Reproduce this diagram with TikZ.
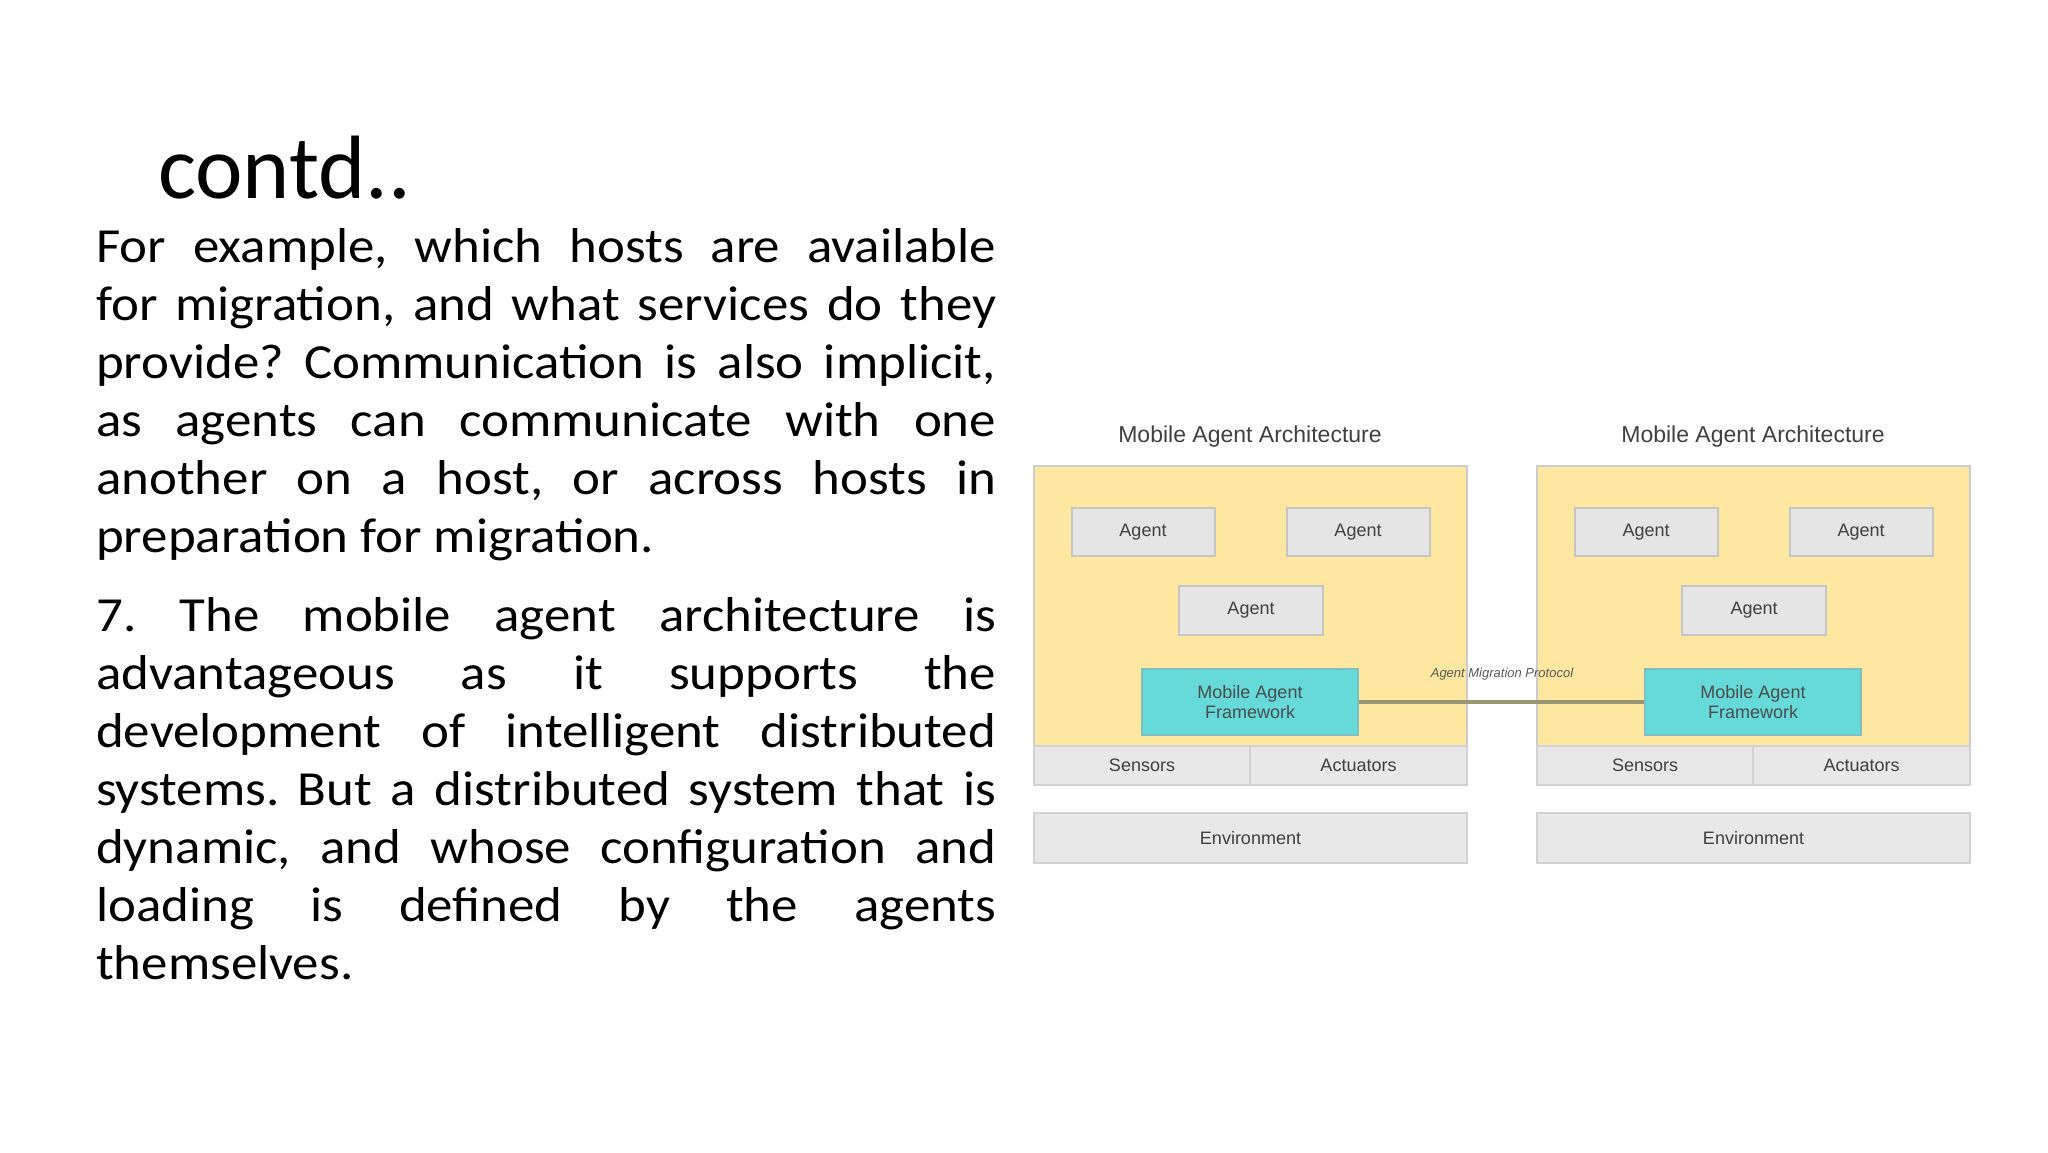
\documentclass[tikz,border=0pt]{standalone}
\usepackage{fontspec}
\setmainfont{Carlito}
\newfontfamily\bodyf{Carlito}[FakeStretch=1.08]
\newfontfamily\dia{Liberation Sans}
\frenchspacing
\begin{document}
\begin{tikzpicture}[x=1pt,y=-1pt,
  ag/.style={draw=gray!45, line width=2pt, fill=black!10, font=\dia\fontsize{18}{20}\selectfont, text=black!75, inner sep=0pt},
  fw/.style={draw=teal!50, line width=1.5pt, fill=teal!50!cyan!60!white, font=\dia\fontsize{18}{20}\selectfont, text=black!70, inner sep=0pt, align=center},
  gr/.style={draw=gray!35, line width=1.5pt, fill=black!9, font=\dia\fontsize{18}{20}\selectfont, text=black!75, inner sep=0pt},
  ttl/.style={font=\dia\fontsize{23}{25}\selectfont, text=black!75}]
\useasboundingbox (0,0) rectangle (2048,1152);
\fill[white] (0,0) rectangle (2048,1152);
\node[anchor=base west, font=\fontsize{90}{100}\selectfont, inner sep=0pt] (title) at (158,198) {contd..};
\node[anchor=north west, inner sep=0pt, text width=900pt, align=justify, font=\bodyf\fontsize{49}{58}\selectfont] (body) at (96,228) {\hyphenpenalty=10000 For example, which hosts are available\linebreak for migration, and what services do they\linebreak provide? Communication is also implicit,\linebreak as agents can communicate with one\linebreak another on a host, or across hosts in\linebreak preparation for migration.\par\vspace{21pt}
\hyphenpenalty=10000 7. The mobile agent architecture is\linebreak advantageous as it supports the\linebreak development of intelligent distributed\linebreak systems. But a distributed system that is\linebreak dynamic, and whose configuration and\linebreak loading is defined by the agents\linebreak themselves.};
\foreach \o/\n in {-10/L,493/R}{
  \begin{scope}[xshift=\o]
  \node[ttl] (t\n) at (1260,437) {Mobile Agent Architecture};
  \node[draw=gray!40, line width=1.5pt, fill=yellow!55!orange!35!white, minimum width=433pt, minimum height=280pt, inner sep=0pt] (y\n) at (1260.5,606) {};
  \node[ag, minimum width=143pt, minimum height=48pt] (a1\n) at (1153,532) {Agent};
  \node[ag, minimum width=143pt, minimum height=48pt] (a2\n) at (1368,532) {Agent};
  \node[ag, minimum width=144pt, minimum height=49pt] (a3\n) at (1261,610) {Agent};
  \node[fw, minimum width=216pt, minimum height=66pt] (f\n) at (1260,702) {Mobile Agent\\Framework};
  \node[gr, minimum width=216pt, minimum height=39pt] (s\n) at (1152,765.5) {Sensors};
  \node[gr, minimum width=217pt, minimum height=39pt] (c\n) at (1368.5,765.5) {Actuators};
  \node[gr, minimum width=433pt, minimum height=50pt] (e\n) at (1260.5,838) {Environment};
  \end{scope}}
\draw[line width=4pt, black!40!yellow!40!gray] (fL.east) -- (fR.west);
\node[font=\dia\itshape\fontsize{13}{15}\selectfont, text=black!65] (mp) at (1502,674) {Agent Migration Protocol};
\end{tikzpicture}
\end{document}
